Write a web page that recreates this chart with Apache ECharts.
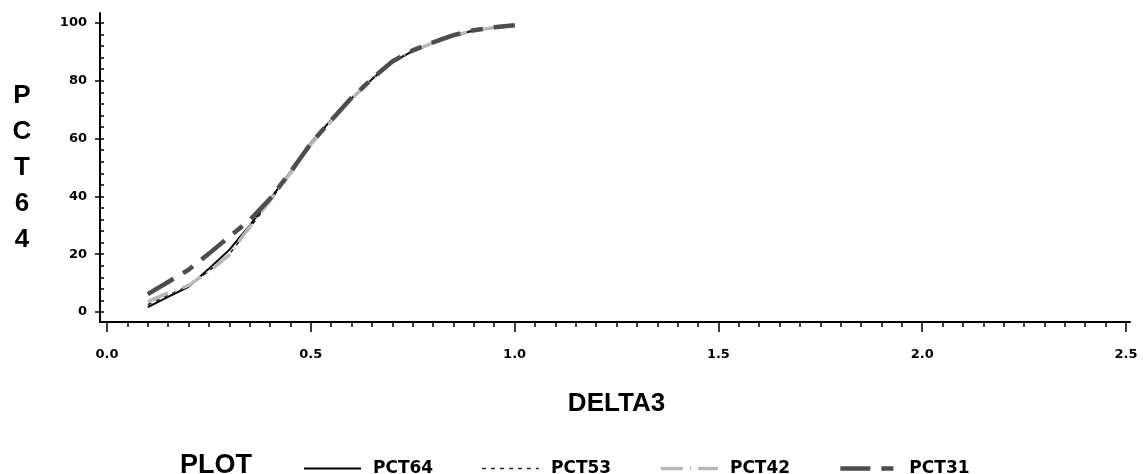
<!DOCTYPE html>
<html>
<head>
<meta charset="utf-8">
<title>PCT64 by DELTA3</title>
<script src="https://cdn.jsdelivr.net/npm/echarts@6/dist/echarts.min.js"></script>
<style>
  html, body { margin: 0; padding: 0; background: #fff; }
  #chart { width: 1143px; height: 474px; }
</style>
</head>
<body>
<div id="chart"></div>
<script>
// DELTA3 values shared by every curve
const delta3 = [0.10, 0.15, 0.20, 0.25, 0.30, 0.35, 0.40, 0.45, 0.50, 0.55,
                0.60, 0.65, 0.70, 0.75, 0.80, 0.85, 0.90, 0.95, 1.00];

// cumulative percentages for each plot variable
const pct64 = [1.7, 5.2, 8.7, 15.0, 21.5, 30.0, 39.0, 48.5, 58.5, 66.5,
               74.0, 80.5, 86.5, 90.3, 93.2, 95.6, 97.4, 98.4, 99.1];
const pct53 = [2.5, 5.8, 9.0, 14.2, 20.0, 29.0, 38.5, 48.0, 58.0, 66.2,
               74.0, 80.8, 86.6, 90.4, 93.3, 95.7, 97.5, 98.5, 99.2];
const pct42 = [3.6, 6.6, 9.2, 14.0, 19.8, 29.5, 38.5, 48.0, 58.0, 66.0,
               73.8, 80.5, 86.5, 90.3, 93.1, 95.6, 97.4, 98.4, 99.1];
const pct31 = [6.2, 10.4, 14.6, 20.2, 26.0, 31.8, 39.2, 48.4, 58.3, 66.3,
               74.1, 80.7, 86.7, 90.5, 93.3, 95.8, 97.5, 98.5, 99.2];

const seriesNames = ['PCT64', 'PCT53', 'PCT42', 'PCT31'];
const seriesValues = [pct64, pct53, pct42, pct31];

// axis settings
const xMin = 0, xMax = 2.5, xStep = 0.5;
const yMin = 0, yMax = 100, yStep = 20;

const LABEL_FONT = 'DejaVu Sans';
const TITLE_FONT = 'Liberation Sans';

const lineStyles = [
  { color: '#000000', width: 2, type: 'solid' },
  { color: '#2a2a2a', width: 1.6, type: [4, 5] },
  { color: '#b8b8b8', width: 3.5, type: [22, 7, 1, 7] },
  { color: '#4d4d4d', width: 4.5, type: [30, 11, 12, 11] }
];

const series = seriesNames.map((name, i) => ({
  name: name,
  type: 'line',
  xAxisIndex: 0,
  yAxisIndex: 0,
  symbol: 'none',
  showSymbol: false,
  data: delta3.map((d, k) => [d, seriesValues[i][k]]),
  lineStyle: lineStyles[i],
  itemStyle: { color: lineStyles[i].color, opacity: 0 },
  emphasis: { disabled: true },
  z: 3 + i
}));

const hidden = { show: false };

const option = {
  animation: false,
  backgroundColor: '#ffffff',
  title: {
    text: 'PLOT',
    left: 175,
    top: 447,
    textStyle: { fontFamily: TITLE_FONT, fontWeight: 'bold', fontSize: 27, color: '#000' }
  },
  legend: {
    data: seriesNames.map((name, i) => ({
      name: name,
      lineStyle: {
        color: lineStyles[i].color,
        width: lineStyles[i].width,
        type: lineStyles[i].type
      }
    })),
    left: 298,
    top: 455,
    itemWidth: 57,
    itemHeight: 14,
    itemGap: 48,
    selectedMode: false,
    itemStyle: { opacity: 0 },
    textStyle: {
      fontFamily: LABEL_FONT, fontWeight: 'bold', fontSize: 17, color: '#000',
      padding: [0, 0, 0, 7]
    }
  },
  grid: [
    // plotting area: data coordinates
    { left: 107, top: 23, width: 1019, height: 289, containLabel: false },
    // axis frame surrounding the plotting area
    { left: 100, top: 13, width: 1030, height: 309, containLabel: false }
  ],
  xAxis: [
    {
      gridIndex: 0,
      type: 'value',
      min: xMin,
      max: xMax,
      interval: xStep,
      offset: 10,
      name: 'DELTA3',
      nameLocation: 'middle',
      nameGap: 82,
      nameTextStyle: {
        fontFamily: TITLE_FONT, fontWeight: 'bold', fontSize: 26, color: '#000',
        verticalAlign: 'middle'
      },
      axisLine: { show: false, onZero: false },
      axisTick: { show: true, inside: false, length: 10, lineStyle: { color: '#000', width: 1.5 } },
      minorTick: { show: true, splitNumber: 10, length: 5, lineStyle: { color: '#000', width: 1.5 } },
      axisLabel: {
        margin: 26,
        fontFamily: LABEL_FONT, fontWeight: 'bold', fontSize: 13, color: '#000',
        formatter: v => v.toFixed(1)
      },
      splitLine: hidden
    },
    {
      gridIndex: 1,
      type: 'value',
      min: 0,
      max: 1,
      axisLine: { show: true, onZero: false, lineStyle: { color: '#000', width: 2 } },
      axisTick: hidden,
      axisLabel: hidden,
      splitLine: hidden
    }
  ],
  yAxis: [
    {
      // inner ticks every 4 units
      gridIndex: 0,
      type: 'value',
      position: 'left',
      min: yMin,
      max: yMax,
      interval: yStep,
      offset: 7,
      axisLine: { show: false, onZero: false },
      axisTick: { show: true, inside: true, length: 4, lineStyle: { color: '#000', width: 1.5 } },
      minorTick: { show: true, splitNumber: 5, length: 4, lineStyle: { color: '#000', width: 1.5 } },
      axisLabel: hidden,
      splitLine: hidden
    },
    {
      // outer major ticks, labels and the stacked axis name
      gridIndex: 0,
      type: 'value',
      position: 'left',
      min: yMin,
      max: yMax,
      interval: yStep,
      offset: 7,
      name: 'P\nC\nT\n6\n4',
      nameLocation: 'middle',
      nameRotate: 0,
      nameGap: 78,
      nameTextStyle: {
        fontFamily: TITLE_FONT, fontWeight: 'bold', fontSize: 26, color: '#000',
        lineHeight: 36, align: 'center', verticalAlign: 'middle'
      },
      axisLine: { show: false, onZero: false },
      axisTick: { show: true, inside: false, length: 5, lineStyle: { color: '#000', width: 1.5 } },
      axisLabel: {
        margin: 13,
        fontFamily: LABEL_FONT, fontWeight: 'bold', fontSize: 13, color: '#000'
      },
      splitLine: hidden
    },
    {
      gridIndex: 1,
      type: 'value',
      min: 0,
      max: 1,
      axisLine: { show: true, onZero: false, lineStyle: { color: '#000', width: 2 } },
      axisTick: hidden,
      axisLabel: hidden,
      splitLine: hidden
    }
  ],
  series: series
};

const chart = echarts.init(document.getElementById('chart'), null, { renderer: 'canvas' });
chart.setOption(option);
</script>
</body>
</html>
